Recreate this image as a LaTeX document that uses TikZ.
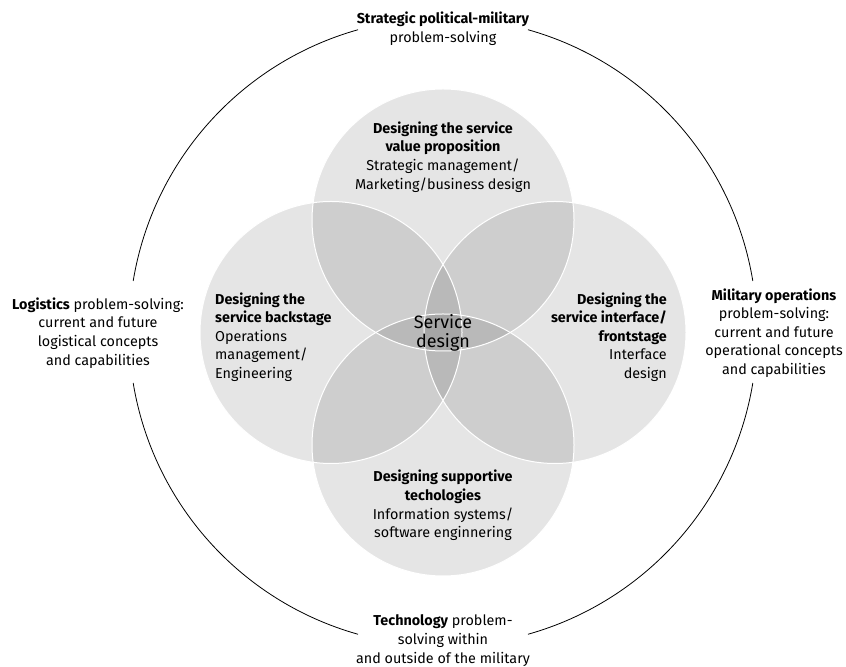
\documentclass[tikz,border=0pt]{standalone}
\usepackage{fontspec}
\setmainfont{Fira Sans}
\begin{document}
\begin{tikzpicture}[x=1bp,y=1bp,
  lbl/.style={inner sep=0pt, text=black, font=\fontsize{14.4}{18.7}\selectfont, align=center},
  venn/.style={fill=black, fill opacity=0.1},
  vennline/.style={draw=white, line width=1bp},
  outer/.style={draw=black, line width=0.8bp}]
\useasboundingbox (0,0) rectangle (846,667);
% outer circle centre
\coordinate (O) at (443,335);
% four circles
\coordinate (ct) at (443,447);
\coordinate (cb) at (443,222);
\coordinate (cl) at (331,334.5);
\coordinate (cr) at (555,334.5);
\foreach \c in {ct,cb,cl,cr}{\fill[venn] (\c) circle[radius=131];}
\foreach \c in {ct,cb,cl,cr}{\draw[vennline] (\c) circle[radius=131];}
% outer arcs with gaps
\draw[outer] (O) ++(9.35:314) arc[start angle=9.35,end angle=74.3,radius=314];
\draw[outer] (O) ++(105.7:314) arc[start angle=105.7,end angle=170.65,radius=314];
\draw[outer] (O) ++(189.35:314) arc[start angle=189.35,end angle=254.3,radius=314];
\draw[outer] (O) ++(285.7:314) arc[start angle=285.7,end angle=350.65,radius=314];
% outer labels
\node[lbl] (top) at (443,638) {\textbf{Strategic political-military}\\problem-solving};
\node[lbl] (bot) at (443,26.5) {\textbf{Technology} problem-\\solving within\\and outside of the military};
\node[lbl] (lft) at (98,334) {\textbf{Logistics} problem-solving:\\current and future\\logistical concepts\\and capabilities};
\node[lbl] (rgt) at (774,334) {\textbf{Military operations}\\problem-solving:\\current and future\\operational concepts\\and capabilities};
% circle labels
\node[lbl] (tt) at (443,510) {\textbf{Designing the service}\\\textbf{value proposition}\\Strategic management/\\Marketing/business design};
\node[lbl, align=left, anchor=west] (lt) at (215,330) {\textbf{Designing the}\\\textbf{service backstage}\\Operations\\management/\\Engineering};
\node[lbl, align=right, anchor=east] (rt) at (667,330) {\textbf{Designing the}\\\textbf{service interface/}\\\textbf{frontstage}\\Interface\\design};
\node[lbl] (bt) at (443,161.5) {\textbf{Designing supportive}\\\textbf{techologies}\\Information systems/\\software enginnering};
\node[lbl, font=\fontsize{18}{19}\selectfont] (sd) at (443,334) {Service\\design};
\end{tikzpicture}
\end{document}
